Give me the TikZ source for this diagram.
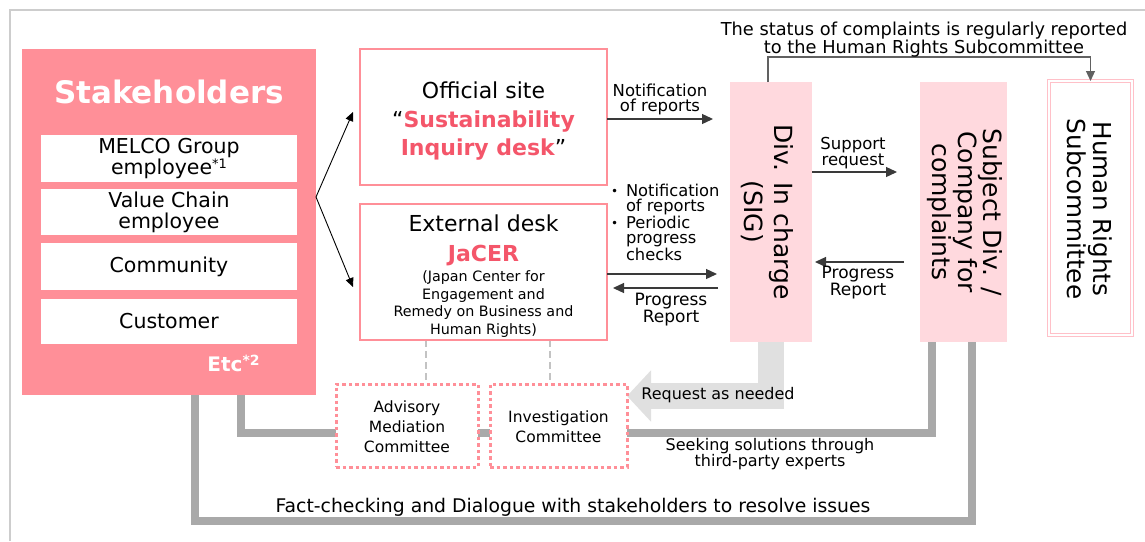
\documentclass[tikz,border=0pt]{standalone}
\usepackage{fontspec}
\setmainfont{DejaVu Sans}
\usetikzlibrary{arrows.meta,calc}
\pgfdeclarelayer{background}
\pgfsetlayers{background,main}
\definecolor{stk}{RGB}{255,143,152}
\definecolor{pinktxt}{RGB}{244,86,106}
\definecolor{lpink}{RGB}{255,217,222}
\definecolor{hrpink}{RGB}{255,192,200}
\definecolor{cgray}{RGB}{169,169,169}
\definecolor{lgray}{RGB}{224,224,224}
\definecolor{dgray}{RGB}{195,195,195}
\definecolor{framegray}{RGB}{205,205,205}
\definecolor{arrgray}{RGB}{58,58,58}
\newcommand\fsz[2]{\fontsize{#1}{#2}\selectfont}
\newcommand\bul{\makebox[15pt][l]{\raisebox{1pt}{\fsz{12}{12}•}}}
\begin{document}
\begin{tikzpicture}[x=1pt,y=-1pt,
  box/.style={inner sep=0pt, outer sep=0pt},
  txt/.style={inner sep=0pt, outer sep=0pt, align=center, text=black},
  pinkbox/.style={box, draw=stk, line width=2pt, fill=white},
  whitebox/.style={box, fill=white, minimum width=256pt, align=center, font=\fsz{20.5}{21}},
  fillbox/.style={box, fill=lpink, minimum height=260pt},
  dotbox/.style={box, draw=stk, line width=3pt, dash pattern=on 3.5pt off 3pt, fill=white, minimum height=83pt},
  sarrow/.style={draw=black, line width=0.9pt, -{Triangle[length=9pt,width=8pt]}},
  arr/.style={draw=arrgray, line width=1.3pt, -{Triangle[length=11pt,width=10pt]}},
  gconn/.style={draw=cgray, line width=8pt},
  dline/.style={draw=dgray, line width=2.5pt, dash pattern=on 7pt off 4pt},
  bracket/.style={draw=arrgray!80!white, line width=1.1pt, -{Triangle[length=10pt,width=9pt]}}
]
\useasboundingbox (0,0) rectangle (1145,541);
% frame
\draw[framegray, line width=2.5pt] (10,541) -- (10,10) -- (1145,10);

% Stakeholders
\node[box, fill=stk, minimum width=294pt, minimum height=346pt] (stake) at (169,222) {};
\node[txt, text=white, font=\fsz{31}{31}\bfseries] (stitle) at (169,92) {Stakeholders};
\node[whitebox, minimum height=47pt] (melco) at (169,158.5) {MELCO Group\\employee\raisebox{6pt}{\fsz{13}{13}*1}};
\node[whitebox, minimum height=46pt] (vchain) at (169,212) {Value Chain\\employee};
\node[whitebox, minimum height=47pt] (comm) at (169,266.5) {Community};
\node[whitebox, minimum height=45pt] (cust) at (169,321.5) {Customer};
\node[txt, text=white, font=\fsz{20}{20}\bfseries] (etc) at (233.5,363) {Etc\raisebox{6pt}{\fsz{14}{14}\bfseries *2}};

% Desks
\node[pinkbox, minimum width=247pt, minimum height=136pt] (off) at (483.5,117) {};
\node[txt, font=\fsz{22}{28.5}] (offtxt) at (483.5,121.5) {Official site\\“{\color{pinktxt}\bfseries Sustainability}\\{\color{pinktxt}\bfseries Inquiry desk}”};
\node[pinkbox, minimum width=247pt, minimum height=136pt] (ext) at (483.5,272) {};
\node[txt, font=\fsz{22}{30}] (exttxt) at (483.5,240) {External desk\\{\color{pinktxt}\bfseries JaCER}};
\node[txt, font=\fsz{14.3}{17.8}] (jacer) at (483.5,304) {(Japan Center for\\Engagement and\\Remedy on Business and\\Human Rights)};

% vertical boxes
\node[fillbox, minimum width=82pt] (div) at (771,212) {};
\node[txt, rotate=-90, font=\fsz{25}{30}] (divtxt) at (767.5,212) {Div. In charge\\(SIG)};
\node[fillbox, minimum width=87pt] (subj) at (963.5,212) {};
\node[txt, rotate=-90, font=\fsz{25}{24}] (subjtxt) at (965,212) {Subject Div. /\\Company for\\complaints};
\node[box, draw=hrpink, double=white, double distance=1.6pt, line width=1pt, minimum width=83pt, minimum height=254pt] (hr) at (1090.5,208) {};
\node[txt, rotate=-90, font=\fsz{24.7}{26}] (hrtxt) at (1090,209) {Human Rights\\Subcommittee};

% committees
\node[dotbox, minimum width=142pt] (adv) at (407,425.5) {};
\node[txt, font=\fsz{15.5}{20}] (advtxt) at (407,427) {Advisory\\Mediation\\Committee};
\node[dotbox, minimum width=137pt] (inv) at (558.5,425.5) {};
\node[txt, font=\fsz{15.5}{19.5}] (invtxt) at (558.5,426.5) {Investigation\\Committee};

% background connectors
\begin{pgfonlayer}{background}
\draw[lgray, line width=26pt, -{Triangle[length=24pt,width=50pt]}] (div.south) |- ([yshift=29.5pt]inv.east);
\draw[gconn] ([xshift=173pt]stake.south west) -- ++(0,126) -| ([xshift=-35pt]subj.south east);
\draw[gconn] ([xshift=219pt]stake.south west) |- ([yshift=-7pt]adv.west);
\draw[gconn] ([yshift=-7pt]adv.east) -- ([yshift=-7pt]inv.west);
\draw[gconn] ([yshift=-7pt]inv.east) -| ([xshift=12pt]subj.south west);
\coordinate (d1) at ([xshift=-57.5pt]ext.south);
\coordinate (d2) at ([xshift=66.5pt]ext.south);
\draw[dline] (d1) -- (d1 |- adv.north);
\draw[dline] (d2) -- (d2 |- inv.north);
\end{pgfonlayer}

% thin arrows
\draw[sarrow] ([yshift=25pt]stake.east) -- ([xshift=-7pt,yshift=5pt]off.west);
\draw[sarrow] ([yshift=25pt]stake.east) -- ([xshift=-7pt,yshift=-15pt]ext.west);
\coordinate (n1) at ([yshift=-2pt]off.east);
\draw[arr, shorten >=17pt] (n1) -- (n1 -| div.west);
\coordinate (n2) at ([yshift=-2pt]ext.east);
\draw[arr, shorten >=13pt] (n2) -- (n2 -| div.west);
\coordinate (n3) at ([yshift=-16pt]ext.east);
\draw[arr, shorten <=12pt, shorten >=6pt] (n3 -| div.west) -- (n3);
\coordinate (n4) at ([yshift=40pt]div.east);
\draw[arr, shorten >=23pt] (n4) -- (n4 -| subj.west);
\coordinate (n5) at ([yshift=-50pt]subj.west);
\draw[arr, shorten <=16pt, shorten >=3pt] (n5) -- (n5 -| div.east);
\draw[bracket] ([xshift=-3pt]div.north) -- ++(0,-25) -| (hr.north);

% labels
\node[txt, font=\fsz{16.5}{15}] (lab1) at (660,99.5) {Notification\\of reports};
\node[txt, font=\fsz{16.3}{15}, align=left, anchor=west] (lab2) at (611,222.6) {\bul Notification\\\hspace*{15pt}of reports\\\bul Periodic\\\hspace*{15pt}progress\\\hspace*{15pt}checks};
\node[txt, font=\fsz{17}{15}] (lab3) at (671,309.5) {Progress\\Report};
\node[txt, font=\fsz{16.5}{15}] (lab4) at (853,153) {Support\\request};
\node[txt, font=\fsz{17}{15}] (lab5) at (858,282.5) {Progress\\Report};
\node[txt, font=\fsz{16}{16}] (lab6) at (718,395) {Request as needed};
\node[txt, font=\fsz{16}{14.5}] (lab7) at (770,454) {Seeking solutions through\\third-party experts};
\node[txt, font=\fsz{18.8}{18.8}] (lab8) at (573,507) {Fact-checking and Dialogue with stakeholders to resolve issues};
\node[txt, font=\fsz{17.8}{18}] (lab9) at (924,40) {The status of complaints is regularly reported\\to the Human Rights Subcommittee};
\end{tikzpicture}
\end{document}
